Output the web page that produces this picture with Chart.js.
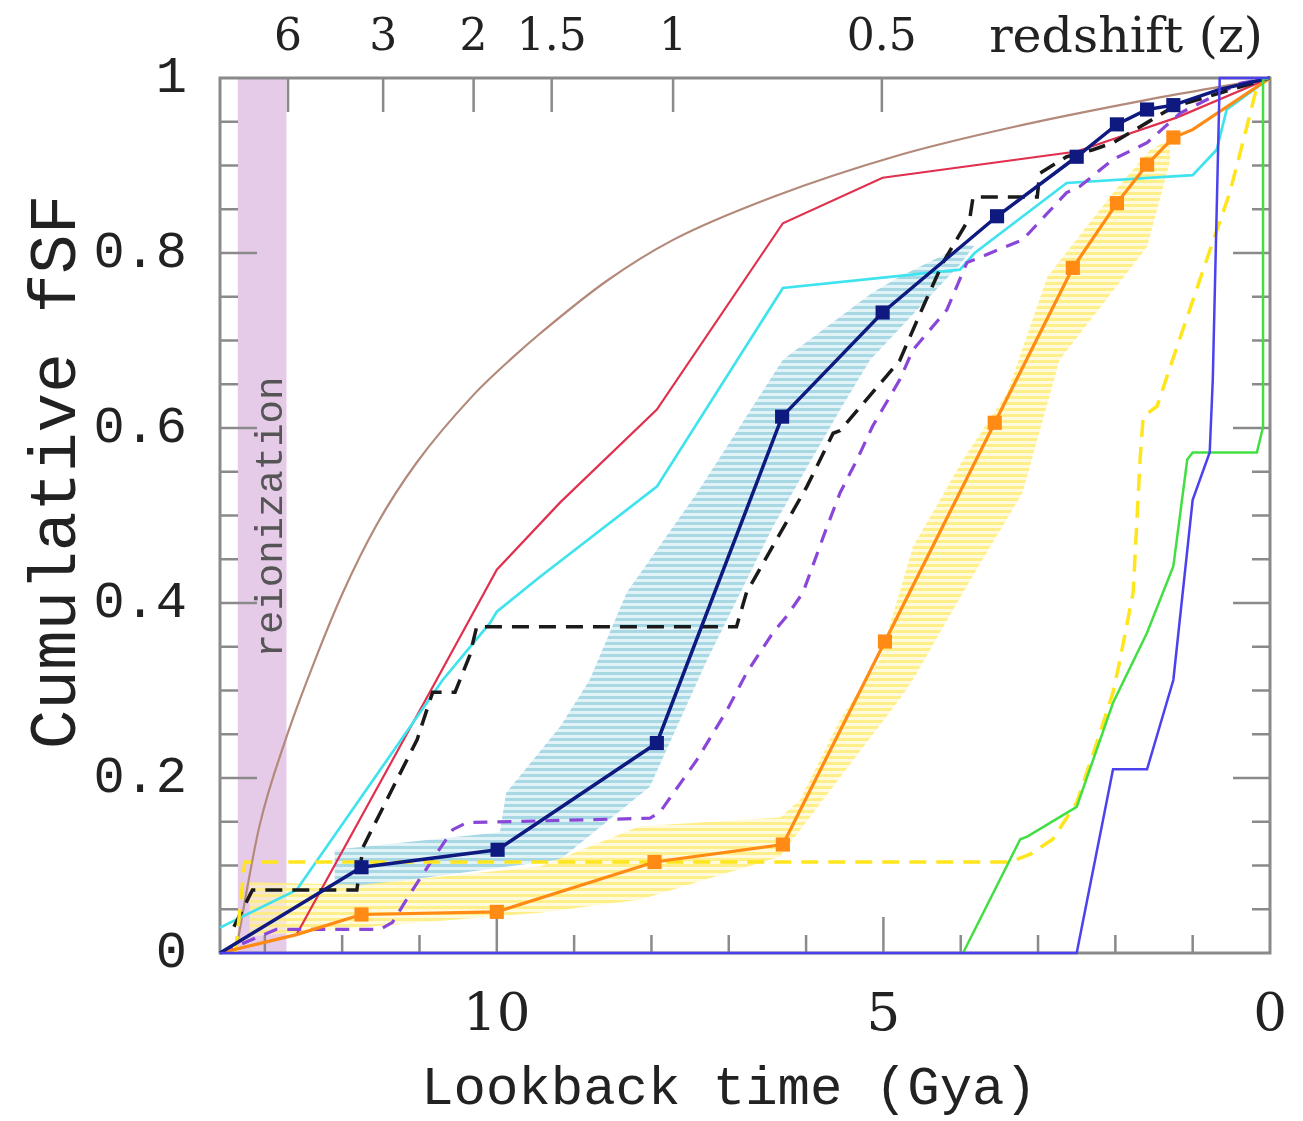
<!DOCTYPE html>
<html>
<head>
<meta charset="utf-8">
<script src="https://cdn.jsdelivr.net/npm/chart.js@4.4.0/dist/chart.umd.min.js"></script>
<style>
  body { margin: 0; background: #fff; overflow: hidden; }
</style>
</head>
<body>
<canvas id="fsf" width="1303" height="1121"></canvas>
<script>
// lookback time axis runs from the big bang (left) to today (right)
const xMax = 13.58;
const reionFrom = 13.35, reionTo = 12.72;

// top axis: redshift labels at their lookback times
const zLabels = ['6', '3', '2', '1.5', '1', '0.5'];
const zLookback = [12.70, 11.47, 10.30, 9.29, 7.72, 5.02];
const xTickVals = [0, 5, 10];
const yTickVals = [0, 0.2, 0.4, 0.6, 0.8, 1];

// series: lookback time (Gyr) and cumulative fSF
const brownT = [13.38, 13.07, 12.72, 12.35, 11.99, 11.55, 11.04, 10.31, 9.79, 9.44, 8.58, 7.72, 6.43, 4.79, 3.32, 1.59, 0.06, 0];
const brownF = [0, 0.145, 0.247, 0.335, 0.412, 0.490, 0.560, 0.637, 0.681, 0.708, 0.768, 0.815, 0.864, 0.912, 0.944, 0.975, 0.999, 1];

const redT = [13.58, 12.59, 10.78, 10.0, 9.18, 7.93, 6.30, 5.01, 2.50, 1.20, 0];
const redF = [0, 0.021, 0.312, 0.438, 0.515, 0.621, 0.834, 0.886, 0.916, 0.955, 1];

const cyanT = [13.58, 12.59, 10.70, 10.09, 10.0, 9.44, 7.93, 6.30, 4.01, 3.82, 2.63, 1.0, 0.69, 0.56, 0];
const cyanF = [0.029, 0.072, 0.312, 0.377, 0.39, 0.430, 0.533, 0.760, 0.781, 0.80, 0.880, 0.889, 0.918, 0.964, 1];

const blackT = [13.40, 13.16, 11.81, 11.73, 11.03, 10.83, 10.54, 10.35, 10.26, 6.90, 6.77, 6.43, 5.99, 5.65, 5.56, 4.79, 4.49, 4.23, 3.88, 3.84, 3.01, 2.98, 2.63, 2.29, 2.03, 1.59, 1.25, 0];
const blackF = [0.03, 0.072, 0.072, 0.121, 0.244, 0.298, 0.298, 0.34, 0.373, 0.373, 0.412, 0.465, 0.533, 0.594, 0.597, 0.677, 0.738, 0.789, 0.841, 0.864, 0.864, 0.891, 0.910, 0.918, 0.926, 0.949, 0.967, 1];

const navyT = [13.58, 11.75, 9.99, 7.93, 6.31, 5.01, 3.53, 2.50, 1.98, 1.59, 1.25, 0.65, 0];
const navyF = [0, 0.098, 0.118, 0.240, 0.613, 0.732, 0.842, 0.910, 0.947, 0.964, 0.969, 0.987, 1];

const navyHiT = [3.97, 4.79, 5.14, 6.30, 7.41, 8.32, 8.80, 9.18, 9.88, 9.96, 12.10];
const navyHiF = [0.809, 0.773, 0.755, 0.678, 0.526, 0.412, 0.312, 0.259, 0.183, 0.138, 0.118];
const navyLoT = [3.82, 4.01, 5.17, 5.56, 6.43, 7.28, 8.02, 9.18, 12.10];
const navyLoF = [0.809, 0.787, 0.678, 0.621, 0.487, 0.335, 0.190, 0.107, 0.072];

const orangeT = [13.58, 12.59, 11.75, 10.0, 7.96, 6.30, 4.98, 3.56, 2.55, 1.98, 1.59, 1.25, 1.0, 0];
const orangeF = [0, 0.021, 0.044, 0.047, 0.104, 0.124, 0.356, 0.606, 0.783, 0.857, 0.901, 0.932, 0.941, 1];

const yelHiT = [1.29, 1.55, 2.03, 2.88, 3.40, 3.97, 4.62, 5.05, 5.56, 6.08, 6.34, 8.15, 9.44, 11.75, 13.20];
const yelHiF = [0.93, 0.918, 0.869, 0.773, 0.640, 0.564, 0.464, 0.335, 0.267, 0.175, 0.155, 0.145, 0.099, 0.078, 0.081];
const yelLoT = [1.29, 1.59, 2.72, 3.20, 3.97, 4.62, 4.79, 6.34, 8.15, 9.44, 13.20];
const yelLoF = [0.906, 0.807, 0.678, 0.526, 0.412, 0.312, 0.290, 0.110, 0.061, 0.046, 0.019];

const purpleT = [13.58, 12.85, 11.51, 11.35, 11.09, 10.83, 10.57, 10.39, 8.02, 7.89, 7.41, 7.02, 6.77, 6.43, 6.25, 6.04, 5.73, 5.56, 5.34, 5.14, 4.79, 4.62, 4.18, 3.92, 3.20, 2.63, 2.46, 2.03, 1.59, 1.16, 0.39, 0];
const purpleF = [0, 0.027, 0.027, 0.035, 0.072, 0.107, 0.141, 0.149, 0.154, 0.161, 0.221, 0.278, 0.320, 0.366, 0.385, 0.412, 0.487, 0.526, 0.564, 0.602, 0.655, 0.689, 0.735, 0.789, 0.815, 0.869, 0.876, 0.907, 0.926, 0.960, 0.994, 1];

const yellowT = [13.38, 13.26, 3.36, 3.10, 2.81, 2.50, 2.24, 2.03, 1.94, 1.77, 1.68, 1.64, 1.46, 1.29, 0.82, 0.52, 0.30, 0.17, 0];
const yellowF = [0, 0.104, 0.104, 0.113, 0.130, 0.172, 0.240, 0.298, 0.335, 0.412, 0.564, 0.613, 0.625, 0.670, 0.792, 0.869, 0.944, 0.990, 1];

const greenT = [3.97, 3.23, 3.14, 2.50, 2.03, 1.59, 1.25, 1.07, 1.0, 0.17, 0.09, 0.09, 0];
const greenF = [0, 0.130, 0.133, 0.167, 0.286, 0.366, 0.442, 0.564, 0.572, 0.572, 0.601, 0.998, 1];

const blueT = [13.58, 2.50, 2.03, 1.59, 1.25, 1.0, 0.78, 0.74, 0.65, 0];
const blueF = [0, 0, 0.210, 0.210, 0.312, 0.518, 0.572, 0.655, 1.0, 1];

const pts = (t, f) => t.map((v, i) => ({ x: v, y: f[i] }));

// horizontal hatching for the uncertainty bands
function stripes(dark, light) {
    const c = document.createElement('canvas');
    c.width = 4; c.height = 6;
    const g = c.getContext('2d');
    g.fillStyle = light; g.fillRect(0, 0, 4, 6);
    g.fillStyle = dark; g.fillRect(0, 0, 4, 3);
    return g.createPattern(c, 'repeat');
}
const blueHatch = stripes('rgba(160,212,226,0.85)', 'rgba(214,238,244,0.7)');
const yellowHatch = stripes('rgba(255,236,120,0.8)', 'rgba(255,247,196,0.6)');

function line(t, f, color, width, extra) {
    return Object.assign({
        data: pts(t, f),
        borderColor: color,
        backgroundColor: color,
        borderWidth: width,
        pointRadius: 0,
        fill: false,
        tension: 0,
        clip: 8
    }, extra || {});
}

const navyMarks = navyT.map((v, i) => (i > 0 && i < navyT.length - 2) ? 10 : 0);
const orangeMarks = orangeT.map((v, i) => (i > 1 && i < orangeT.length - 2) ? 10 : 0);

// frame with inward ticks, reionization strip, titles
const decor = {
    id: 'decor',
    beforeDraw(chart) {
        const { ctx, chartArea: a, scales: { x } } = chart;
        const x1 = x.getPixelForValue(reionFrom), x2 = x.getPixelForValue(reionTo);
        ctx.save();
        ctx.fillStyle = '#e6cbe9';
        ctx.fillRect(x1, a.top, x2 - x1, a.bottom - a.top);
        ctx.translate(282, 517);
        ctx.rotate(-Math.PI / 2);
        ctx.fillStyle = '#555';
        ctx.font = '39px "Liberation Mono"';
        ctx.textAlign = 'center';
        ctx.textBaseline = 'alphabetic';
        ctx.fillText('reionization', 0, 0);
        ctx.restore();
    },
    beforeDatasetsDraw(chart) {
        const { ctx, chartArea: a, scales: { x, y, x2 } } = chart;
        ctx.save();
        ctx.strokeStyle = '#8a8a8a';
        ctx.lineWidth = 2.5;
        ctx.beginPath();
        for (let t = 1; t < xMax; t++) {
            const px = x.getPixelForValue(t);
            const len = t % 5 === 0 ? 36 : 18;
            ctx.moveTo(px, a.bottom); ctx.lineTo(px, a.bottom - len);
        }
        zLookback.forEach(t => {
            const px = x2.getPixelForValue(t);
            ctx.moveTo(px, a.top); ctx.lineTo(px, a.top + 34);
        });
        for (let k = 1; k < 20; k++) {
            const py = y.getPixelForValue(k * 0.05);
            const len = k % 4 === 0 ? 37 : 18;
            ctx.moveTo(a.left, py); ctx.lineTo(a.left + len, py);
            ctx.moveTo(a.right, py); ctx.lineTo(a.right - len, py);
        }
        ctx.stroke();
        ctx.lineWidth = 3;
        ctx.strokeRect(a.left, a.top, a.right - a.left, a.bottom - a.top);
        ctx.restore();
    },
    afterDraw(chart) {
        const { ctx } = chart;
        ctx.save();
        ctx.fillStyle = '#222';
        ctx.textAlign = 'center';
        ctx.textBaseline = 'alphabetic';
        ctx.font = '54px "Liberation Mono"';
        ctx.fillText('Lookback time (Gya)', 729, 1104);
        ctx.font = '49px "DejaVu Serif"';
        ctx.fillText('redshift (z)', 1126, 52);
        ctx.translate(75, 472);
        ctx.rotate(-Math.PI / 2);
        ctx.font = '66px "Liberation Mono"';
        ctx.fillText('Cumulative fSF', 0, 0);
        ctx.restore();
    }
};

new Chart(document.getElementById('fsf'), {
    type: 'line',
    data: {
        datasets: [
            line(navyLoT, navyLoF, 'rgba(0,0,0,0)', 0, { order: 100 }),
            line(navyHiT, navyHiF, 'rgba(0,0,0,0)', 0, { order: 99, fill: '-1', backgroundColor: blueHatch }),
            line(yelLoT, yelLoF, 'rgba(0,0,0,0)', 0, { order: 98 }),
            line(yelHiT, yelHiF, 'rgba(0,0,0,0)', 0, { order: 97, fill: '-1', backgroundColor: yellowHatch }),
            line(brownT, brownF, '#b3897a', 2.2, { order: 12, cubicInterpolationMode: 'monotone' }),
            line(redT, redF, '#e0304e', 2.2, { order: 11 }),
            line(cyanT, cyanF, '#3fe3ee', 2.7, { order: 10 }),
            line(purpleT, purpleF, '#8a46d8', 3.2, { order: 9, borderDash: [14, 10] }),
            line(blackT, blackF, '#1a1a1a', 3.5, { order: 8, borderDash: [17, 10] }),
            line(yellowT, yellowF, '#ffe51c', 3.5, { order: 7, borderDash: [17, 10] }),
            line(orangeT, orangeF, '#ff8a14', 3.2, { order: 6, pointRadius: orangeMarks, pointStyle: 'rect', pointBorderWidth: 0 }),
            line(navyT, navyF, '#0f1a80', 3.5, { order: 5, pointRadius: navyMarks, pointStyle: 'rect', pointBorderWidth: 0 }),
            line(greenT, greenF, '#42df42', 2.5, { order: 4 }),
            line(blueT, blueF, '#4b42ee', 2.5, { order: 3 })
        ]
    },
    options: {
        responsive: false,
        animation: false,
        events: [],
        layout: { padding: { left: 0, right: 33, top: 0, bottom: 0 } },
        plugins: {
            legend: { display: false },
            tooltip: { enabled: false },
            filler: { drawTime: 'beforeDatasetsDraw' }
        },
        scales: {
            x: {
                type: 'linear', position: 'bottom', reverse: true, min: 0, max: xMax,
                afterBuildTicks: s => { s.ticks = xTickVals.map(v => ({ value: v })); },
                afterFit: s => { s.height = 168; },
                grid: { display: false, drawTicks: false },
                border: { display: false },
                ticks: { padding: 31, maxRotation: 0, autoSkip: false, color: '#222', font: { family: 'DejaVu Serif', size: 53 } }
            },
            x2: {
                type: 'linear', position: 'top', reverse: true, min: 0, max: xMax,
                afterBuildTicks: s => { s.ticks = zLookback.map(v => ({ value: v })); },
                afterFit: s => { s.height = 78; },
                grid: { display: false, drawTicks: false },
                border: { display: false },
                ticks: {
                    padding: 13, maxRotation: 0, autoSkip: false, color: '#222',
                    font: { family: 'DejaVu Serif', size: 44 },
                    callback: (v, i) => zLabels[i]
                }
            },
            y: {
                min: 0, max: 1,
                afterBuildTicks: s => { s.ticks = yTickVals.map(v => ({ value: v })); },
                afterFit: s => { s.width = 220; },
                grid: { display: false, drawTicks: false },
                border: { display: false },
                ticks: {
                    padding: 33, color: '#222', font: { family: 'Liberation Mono', size: 52 },
                    callback: v => String(+v.toFixed(1))
                }
            }
        }
    },
    plugins: [decor]
});
</script>
</body>
</html>
